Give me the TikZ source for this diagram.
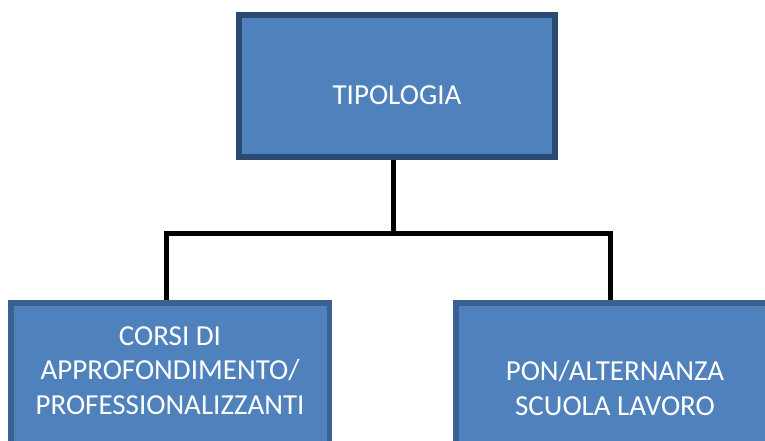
\documentclass[tikz,border=0pt]{standalone}
\usepackage{fontspec}
\setmainfont{Carlito}
\definecolor{boxfill}{HTML}{4F81BD}
\definecolor{topedge}{HTML}{2B4A72}
\definecolor{botedge}{HTML}{3B6092}
\tikzset{
  topbox/.style={draw=topedge, line width=6pt, fill=boxfill, inner sep=0pt,
    minimum width=316pt, minimum height=142pt},
  botbox/.style={draw=botedge, line width=5.5pt, fill=boxfill, inner sep=0pt,
    minimum width=318.5pt, minimum height=174.5pt},
  lbl/.style={text=white, align=center, inner sep=0pt, anchor=base,
    font=\fontsize{29}{34.5}\selectfont},
  conn/.style={draw=black, line width=5pt, line join=miter}
}
\begin{document}
\begin{tikzpicture}[x=1pt, y=-1pt]
\useasboundingbox (0,0) rectangle (765,441);
\node[topbox] (top) at (397,86) {};
\node[botbox] (lb) at (170,390) {};
\node[botbox] (rb) at (615,390) {};
\node[lbl] (toptext) at (397,105) {TIPOLOGIA};
\node[lbl] (lbtext) at (170,414) {CORSI DI\\APPROFONDIMENTO/\\PROFESSIONALIZZANTI};
\node[lbl] (rbtext) at (615,415) {PON/ALTERNANZA\\SCUOLA LAVORO};
\coordinate (j) at (393,233);
\draw[conn] (top.south -| j) -- (j);
\draw[conn] ([xshift=-4pt]lb.north) |- (j) -| ([xshift=-5pt]rb.north);
\end{tikzpicture}
\end{document}
